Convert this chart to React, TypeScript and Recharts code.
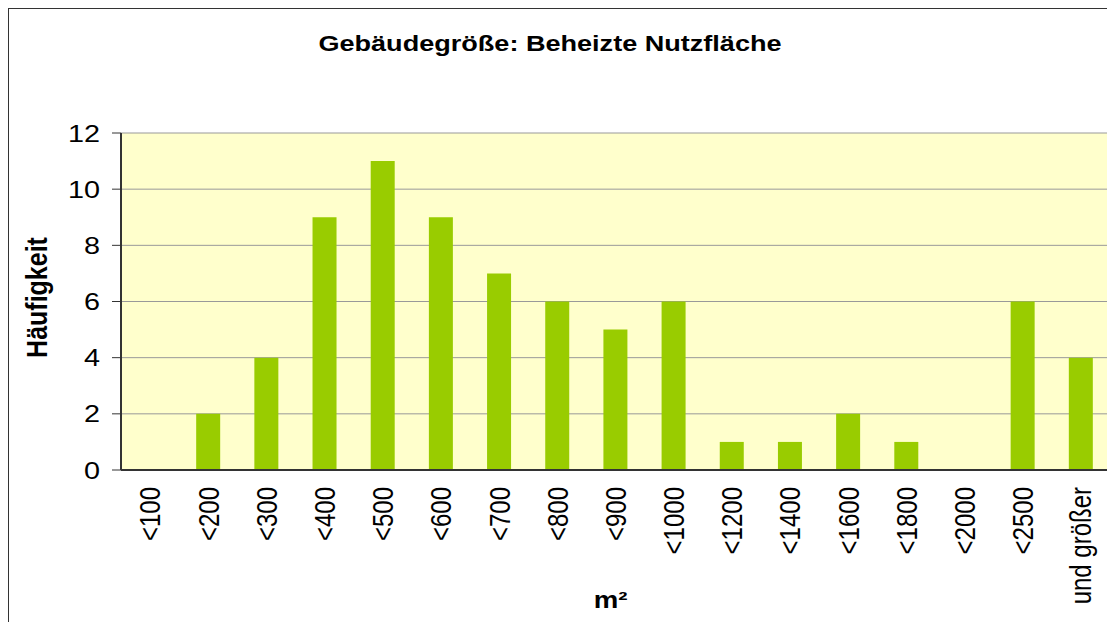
import { BarChart, Bar, XAxis, YAxis, CartesianGrid, Label } from "recharts"

const categories = ["<100", "<200", "<300", "<400", "<500", "<600", "<700", "<800", "<900", "<1000", "<1200", "<1400", "<1600", "<1800", "<2000", "<2500", "und größer"]
const counts = [0, 2, 4, 9, 11, 9, 7, 6, 5, 6, 1, 1, 2, 1, 0, 6, 4]
const yTicks = [0, 2, 4, 6, 8, 10, 12]

const data = categories.map((name, i) => ({ name, value: counts[i] }))

const FONT = "'Liberation Sans', Arial, sans-serif"
const STRETCH = 1.2

function YTick({ x, y, payload }: any) {
  return (
    <g transform={`translate(${x},${y}) scale(${STRETCH},1)`}>
      <text x={0} y={0} dy="0.36em" textAnchor="end" fontSize={24} fill="#000" fontFamily={FONT}>
        {payload.value}
      </text>
    </g>
  )
}

function XTick({ x, y, payload }: any) {
  return (
    <g transform={`translate(${x},${y}) scale(${STRETCH},1) rotate(-90)`}>
      <text x={0} y={0} dy="0.36em" textAnchor="end" fontSize={24} fill="#000" fontFamily={FONT}>
        {payload.value}
      </text>
    </g>
  )
}

function YTitle({ viewBox }: any) {
  const cx = viewBox.x + 27
  const cy = viewBox.y + viewBox.height / 2 - 4
  return (
    <g transform={`translate(${cx},${cy}) scale(${STRETCH},1) rotate(-90)`}>
      <text x={0} y={0} dy="0.36em" textAnchor="middle" fontSize={25} fontWeight="bold" fill="#000" fontFamily={FONT}>
        Häufigkeit
      </text>
    </g>
  )
}

function XTitle({ viewBox }: any) {
  const cx = viewBox.x + viewBox.width / 2 - 5
  const cy = viewBox.y + 130
  return (
    <g transform={`translate(${cx},${cy}) scale(${STRETCH},1)`}>
      <text x={0} y={0} dy="0.36em" textAnchor="middle" fontSize={23} fontWeight="bold" fill="#000" fontFamily={FONT}>
        m²
      </text>
    </g>
  )
}

export default function App() {
  return (
    <div
      style={{
        position: "relative",
        width: 1106,
        height: 613,
        borderLeft: "1px solid #333",
        borderTop: "1px solid #333",
        background: "#fff",
        fontFamily: FONT,
      }}
    >
      <div
        style={{
          position: "absolute",
          left: 0,
          top: 24,
          width: 1082,
          textAlign: "center",
          fontSize: 22,
          lineHeight: "22px",
          fontWeight: "bold",
          transform: `scaleX(${STRETCH + 0.03})`,
          transformOrigin: "center",
        }}
      >
        Gebäudegröße: Beheizte Nutzfläche
      </div>
      <BarChart width={1106} height={613} data={data} margin={{ top: 124, right: 5, left: 0, bottom: 12 }} barSize={24}>
        <CartesianGrid vertical={false} stroke="#999" fill="#FFFFCC" />
        <XAxis
          dataKey="name"
          interval={0}
          height={140}
          tickSize={0}
          tickMargin={17}
          tickLine={false}
          axisLine={{ stroke: "#333", strokeWidth: 2 }}
          tick={<XTick />}
        >
          <Label content={<XTitle />} />
        </XAxis>
        <YAxis
          domain={[0, 12]}
          ticks={yTicks}
          width={112}
          tickSize={9}
          tickMargin={12}
          interval={0}
          tickLine={{ stroke: "#333" }}
          axisLine={{ stroke: "#333", strokeWidth: 2 }}
          tick={<YTick />}
        >
          <Label content={<YTitle />} />
        </YAxis>
        <YAxis
          yAxisId="right"
          orientation="right"
          domain={[0, 12]}
          width={0}
          tick={false}
          tickLine={false}
          axisLine={{ stroke: "#999" }}
        />
        <Bar dataKey="value" fill="#99CC00" isAnimationActive={false} />
      </BarChart>
    </div>
  )
}
